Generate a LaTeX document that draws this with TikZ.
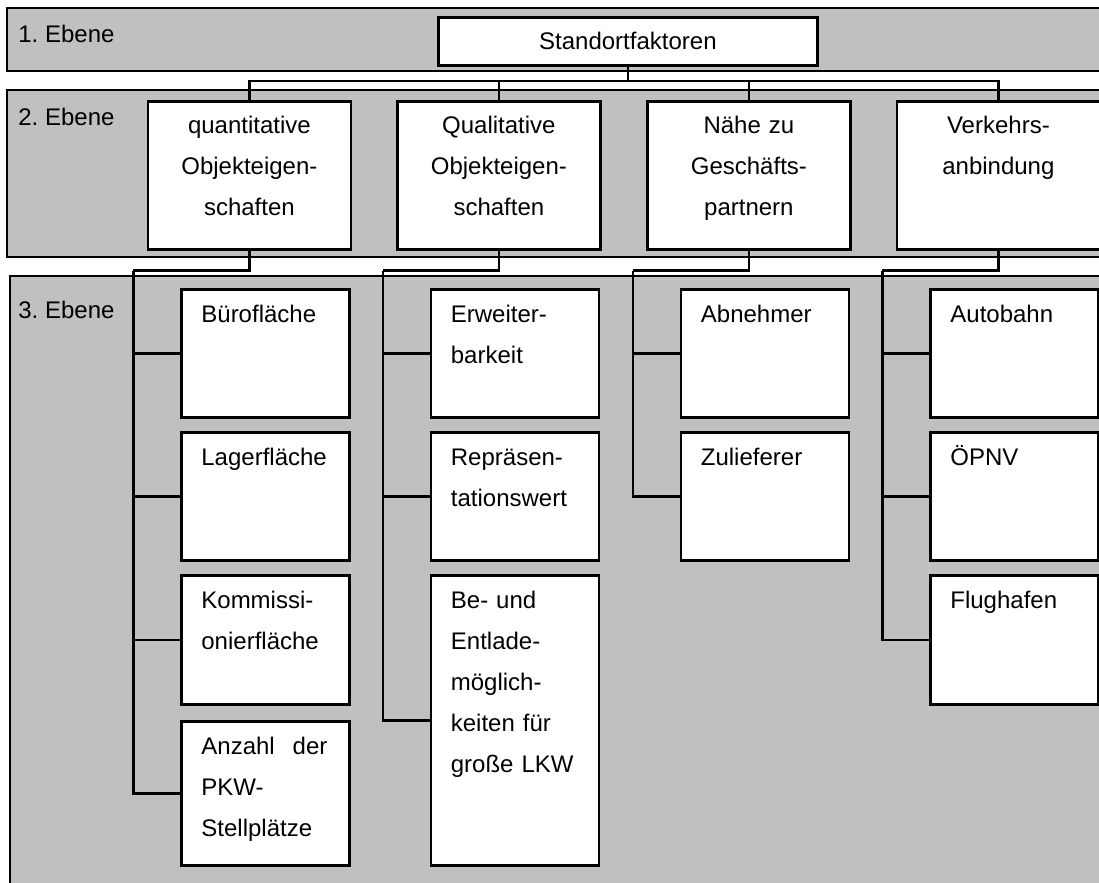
\documentclass[tikz,border=0pt]{standalone}
\usepackage{fontspec}
\setmainfont{Liberation Sans}
\usetikzlibrary{calc}
\definecolor{bandgray}{RGB}{192,192,192}
\frenchspacing

\begin{document}
\begin{tikzpicture}[x=0.5pt, y=-0.5pt,
  font=\fontsize{12}{20.5}\selectfont,
  band/.style={draw, line width=1pt, fill=bandgray},
  rootbox/.style={draw, line width=1.4pt, fill=white, anchor=north west, inner sep=0pt, minimum width=189.5pt, minimum height=24pt},
  mainbox/.style={draw, line width=1.4pt, fill=white, anchor=north west, inner xsep=0pt, inner ysep=0pt, text width=101.5pt, align=center, text height=16pt, text depth=58pt},
  subbox/.style={draw, line width=1.4pt, fill=white, anchor=north west, inner xsep=10pt, inner ysep=0pt, text width=64pt, align=left, text height=16.5pt, text depth=#1},
  subbox/.default=47.5pt,
  level/.style={anchor=base west, inner sep=0pt},
  link/.style={line width=1.4pt}]
\useasboundingbox (0,0) rectangle (1099,883);
\clip (0,0) rectangle (1099,883);
\draw[band] (7,8) rectangle (1110,71);
\draw[band] (7,90) rectangle (1110,257);
\draw[band] (9.5,276) rectangle (1110,900);

\node[level] (ebene1) at (18,43) {1. Ebene};
\node[level] (ebene2) at (18,126) {2. Ebene};
\node[level] (ebene3) at (18,318) {3. Ebene};

\node[rootbox] (root) at (437,16) {Standortfaktoren};

\node[mainbox] (quant) at (146.5,100) {quantitative\\Objekteigen-\\schaften};
\node[mainbox] (qual) at (396,100) {Qualitative\\Objekteigen-\\schaften};
\node[mainbox] (naehe) at (646,100) {Nähe zu\\Geschäfts-\\partnern};
\node[mainbox] (verkehr) at (895.5,100) {Verkehrs-\\anbindung};

\node[subbox] (buero) at (180,288) {Bürofläche};
\node[subbox] (lager) at (180,431) {Lagerfläche};
\node[subbox=48pt] (komm) at (180,574) {Kommissi-\\onierfläche};
\node[subbox=55.5pt] (pkw) at (180,720) {\hbox to 63pt{Anzahl\hfill der}\\PKW-\\Stellplätze};
\node[subbox] (erweit) at (429.5,288) {Erweiter-\\barkeit};
\node[subbox] (repr) at (429.5,431) {Repräsen-\\tationswert};
\node[subbox=128.5pt] (beent) at (429.5,574) {Be- und\\Entlade-\\möglich-\\keiten für\\große LKW};
\node[subbox] (abn) at (679.5,288) {Abnehmer};
\node[subbox] (zul) at (679.5,431) {Zulieferer};
\node[subbox] (auto) at (929,288) {Autobahn};
\node[subbox] (oepnv) at (929,431) {ÖPNV};
\node[subbox=48pt] (flug) at (929,574) {Flughafen};

\foreach \n in {quant,qual,naehe,verkehr}
  \draw[link] (root.south) |- ($(\n.north)+(0,9.5pt)$) -- (\n.north);

\foreach \n/\s in {quant/qspine, qual/lspine, naehe/nspine, verkehr/vspine}{
  \coordinate (\s) at ($(\n.south)+(-58pt,-10pt)$);
  \draw[link] (\n.south) -- ++(0,-10pt) -- (\s);
}

\foreach \s/\c in {qspine/buero, qspine/lager, qspine/komm, qspine/pkw,
                   lspine/erweit, lspine/repr, lspine/beent,
                   nspine/abn, nspine/zul,
                   vspine/auto, vspine/oepnv, vspine/flug}
  \draw[link] (\s) |- (\c.west);
\end{tikzpicture}
\end{document}
